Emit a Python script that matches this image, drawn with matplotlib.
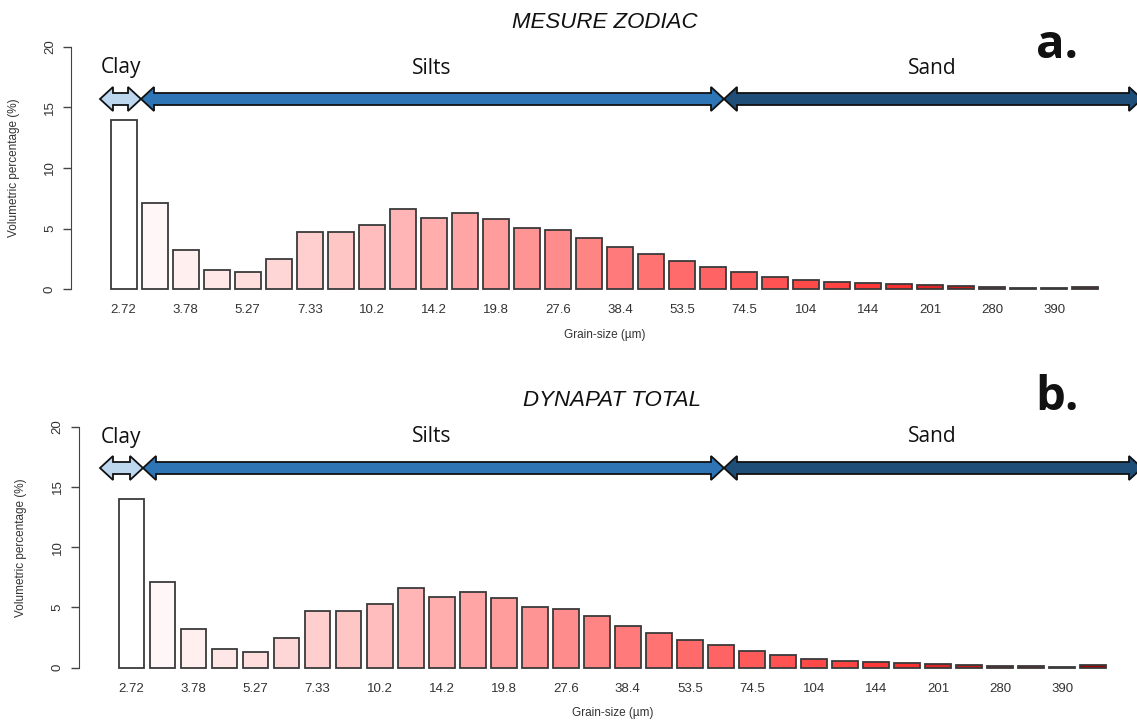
import matplotlib
matplotlib.use("Agg")
import matplotlib.pyplot as plt
import numpy as np
from matplotlib.patches import Polygon
from matplotlib.colors import LinearSegmentedColormap

plt.rcParams["font.family"] = ["Liberation Sans", "DejaVu Sans"]

# ---------------- data ----------------
size_labels = ["2.72", "3.78", "5.27", "7.33", "10.2", "14.2", "19.8", "27.6",
               "38.4", "53.5", "74.5", "104", "144", "201", "280", "390"]
zodiac_values = [14.0, 7.1, 3.25, 1.57, 1.38, 2.5, 4.7, 4.7, 5.33, 6.6, 5.87, 6.25,
                 5.77, 5.04, 4.88, 4.25, 3.5, 2.87, 2.32, 1.85, 1.38, 1.02, 0.74,
                 0.55, 0.47, 0.39, 0.3, 0.22, 0.14, 0.12, 0.05, 0.2]
dynapat_values = [14.0, 7.1, 3.22, 1.55, 1.34, 2.49, 4.7, 4.7, 5.31, 6.6, 5.86, 6.25,
                  5.76, 5.04, 4.87, 4.25, 3.5, 2.87, 2.32, 1.85, 1.38, 1.02, 0.74,
                  0.55, 0.47, 0.39, 0.3, 0.22, 0.14, 0.12, 0.05, 0.2]
panel_titles = ["MESURE ZODIAC", "DYNAPAT TOTAL"]
panel_letters = ["a.", "b."]
class_names = ["Clay", "Silts", "Sand"]

W, H = 1137, 726
fig = plt.figure(figsize=(W / 100, H / 100), dpi=100)
fig.patch.set_facecolor("white")

cmap = LinearSegmentedColormap.from_list(
    "wr", [(0.0, "#FFFFFF"), (0.80, "#FF3333"), (0.87, "#C41A1A"), (1.0, "#A00000")])

def fp(x, y):
    return (x / W, 1 - y / H)

def double_arrow(x0, x1, yc, color, h=6, Hh=12, L=13):
    pts = [(x0, yc), (x0 + L, yc - Hh), (x0 + L, yc - h), (x1 - L, yc - h),
           (x1 - L, yc - Hh), (x1, yc), (x1 - L, yc + Hh), (x1 - L, yc + h),
           (x0 + L, yc + h), (x0 + L, yc + Hh)]
    poly = Polygon([fp(*p) for p in pts], closed=True, transform=fig.transFigure,
                   facecolor=color, edgecolor="#111111", linewidth=1.3, zorder=5)
    fig.patches.append(poly)

# layout per panel (pixels)
panels = [
    dict(rect=(71.2, 37.3, 1137.5, 298.7), values=zodiac_values,
         arrow_y=99, bounds=(100, 141, 724, 1142), label_y=68, title_y=22, letter_y=46),
    dict(rect=(79.0, 417.1, 1145.5, 677.3), values=dynapat_values,
         arrow_y=468, bounds=(100, 143, 724, 1142), label_y=437, title_y=400, letter_y=398),
]

n = len(zodiac_values)
centers = 0.2 + 1.2 * np.arange(n) + 0.5
colors = [cmap(i / (n - 1)) for i in range(n)]
txtc = "#333333"

for k, p in enumerate(panels):
    l, t, r, b = p["rect"]
    ax = fig.add_axes([l / W, 1 - b / H, (r - l) / W, (b - t) / H])
    ax.bar(centers, p["values"], width=1.0, color=colors, edgecolor="#3A3A3A",
           linewidth=1.3)
    ax.set_xlim(0.2 - 0.04 * 38.2, 38.4 + 0.04 * 38.2)
    ax.set_ylim(-0.8, 20.8)
    for s in ["top", "right", "bottom"]:
        ax.spines[s].set_visible(False)
    ax.spines["left"].set_bounds(0, 20)
    ax.spines["left"].set_color("#444444")
    ax.set_yticks([0, 5, 10, 15, 20])
    ax.tick_params(axis="y", length=6, width=1, colors="#444444", labelsize=9.5,
                   labelrotation=90, pad=5, labelcolor=txtc)
    for lab in ax.get_yticklabels():
        lab.set_va("center")
    ax.set_xticks(centers[::2])
    ax.set_xticklabels(size_labels)
    ax.tick_params(axis="x", length=0, pad=4, labelsize=9.5, labelcolor=txtc)
    ax.set_xlabel("Grain-size (µm)", fontsize=8.5, color=txtc, labelpad=9)
    ax.set_ylabel("Volumetric percentage (%)", fontsize=8.5, color=txtc)
    ax.yaxis.set_label_coords(-(l - (19.6 if k == 0 else 27)) / (r - l), 0.5)

    cx = (l + r) / 2
    fig.text(*fp(cx, p["title_y"]), panel_titles[k], ha="center", va="center",
             fontsize=16, style="italic", family="Liberation Sans", color="#111111")
    fig.text(*fp(1057, p["letter_y"]), panel_letters[k], ha="center", va="center",
             fontsize=34, weight="bold", family="Open Sans", color="#111111")

    x0, x1, x2, x3 = p["bounds"]
    ya = p["arrow_y"]
    double_arrow(x0, x1, ya, "#BDD7EE")
    double_arrow(x1, x2, ya, "#2E75B6")
    double_arrow(x2, x3, ya, "#1F4E79")
    ly = p["label_y"]
    for name, xx in zip(class_names, [121, 432, 932]):
        fig.text(*fp(xx, ly), name, ha="center", va="center", fontsize=15,
                 family="Open Sans", color="#111111")

fig.savefig("out.png", dpi=100, facecolor="white")
